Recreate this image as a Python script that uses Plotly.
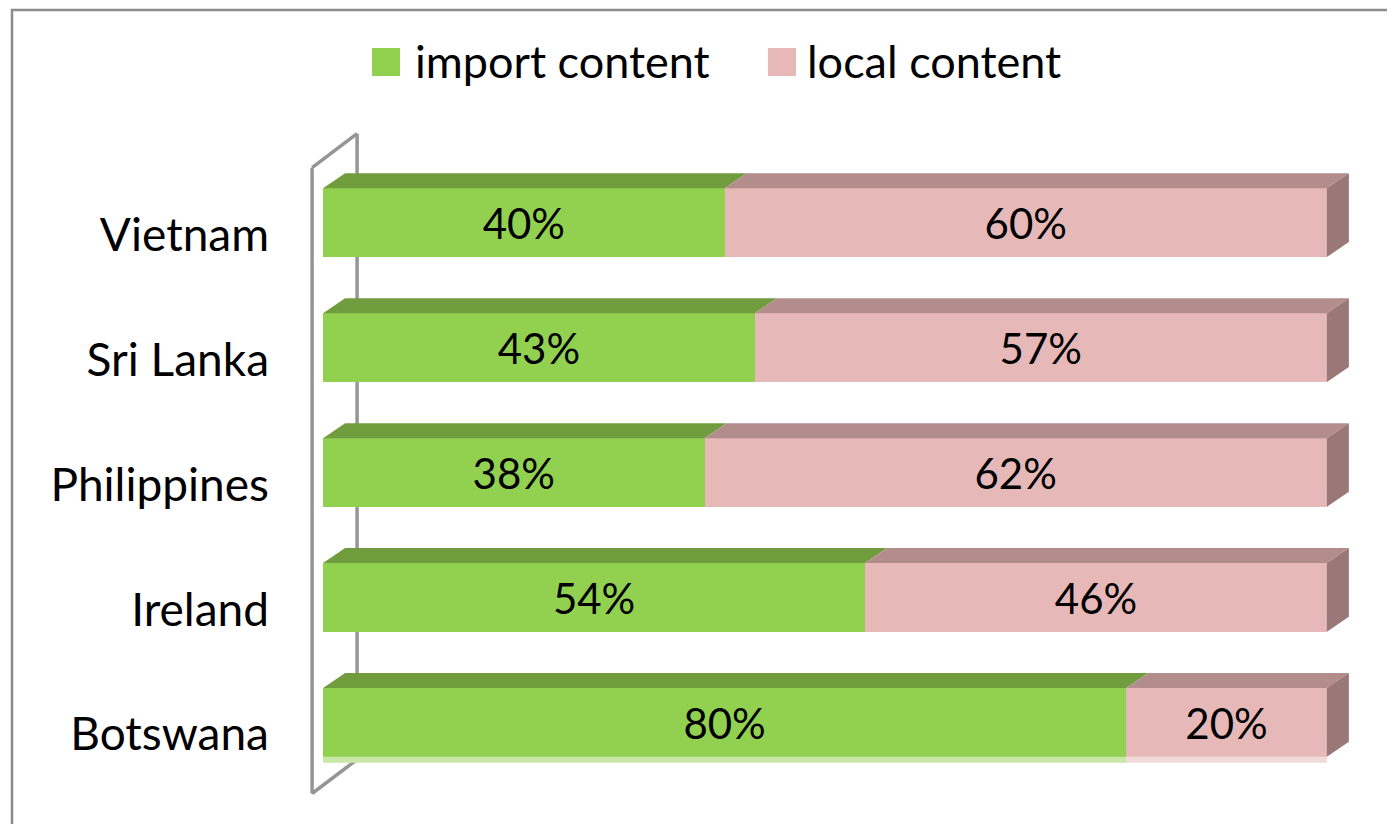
import plotly.graph_objects as go

# ---------------- data ----------------
categories = ["Botswana", "Ireland", "Philippines", "Sri Lanka", "Vietnam"]
import_content = [80, 54, 38, 43, 40]
local_content = [20, 46, 62, 57, 60]
series_names = ["import content", "local content"]

# ---------------- style ----------------
W, H = 1395, 824
OFF = 8  # page body margin
L, R, T, B = 303 - OFF, 46, 129 - OFF, 16
x_range = [-2, 103]
y_range = [-0.75, 4.75]
bar_width = 0.55
FONT = "Lato"
TXT = 42
CAT_TXT = 46
LEG_TXT = 45

front_cols = ["#92D050", "#E6B9B8"]
top_cols = ["#719C3E", "#B38D8C"]
floor_cols = ["#C9E8A8", "#F1DADA"]
side_col = "#9A7877"
wall_col = "#959595"

plot_w = W - L - R
plot_h = H - T - B
ppx = plot_w / (x_range[1] - x_range[0])
ppy = plot_h / (y_range[1] - y_range[0])
dx = 22 / ppx          # depth offset in x data units
dy = 15 / ppy          # depth offset in y data units
cat_shift = 12 / ppy   # category labels sit a bit below bar centre
lab_shift = 6 / ppy    # value labels sit a bit below bar centre

ypos = list(range(len(categories)))

fig = go.Figure()
for name, vals, col in zip(series_names, [import_content, local_content], front_cols):
    fig.add_trace(go.Bar(
        y=ypos, x=vals, orientation="h", name=name, width=bar_width,
        marker=dict(color=col, line=dict(width=0)),
        showlegend=False, hoverinfo="skip",
    ))

# value labels, centred on each segment
for k, vals in enumerate([import_content, local_content]):
    base = [0] * len(vals) if k == 0 else import_content
    fig.add_trace(go.Scatter(
        x=[b0 + v / 2 for b0, v in zip(base, vals)],
        y=[i - lab_shift for i in ypos],
        mode="text", text=[f"{v}%" for v in vals],
        textposition="middle center",
        textfont=dict(family=FONT, size=TXT, color="black"),
        showlegend=False, hoverinfo="skip", cliponaxis=False,
    ))

shapes = []
# 3D top faces and right side face, derived from data
for i, (a, b) in enumerate(zip(import_content, local_content)):
    ytop = i + bar_width / 2
    ybot = i - bar_width / 2
    segs = [(0, a, 0), (a, a + b, 1)]
    for x0, x1, k in segs:
        shapes.append(dict(
            type="path", xref="x", yref="y", layer="above",
            path=f"M {x0},{ytop} L {x0+dx},{ytop+dy} L {x1+dx},{ytop+dy} L {x1},{ytop} Z",
            fillcolor=top_cols[k], line=dict(width=0)))
        if i == 0:
            fs = 6 / ppy
            shapes.append(dict(
                type="rect", xref="x", yref="y", layer="above",
                x0=x0, x1=x1, y0=ybot - fs, y1=ybot,
                fillcolor=floor_cols[k], line=dict(width=0)))
    xe = a + b
    shapes.append(dict(
        type="path", xref="x", yref="y", layer="above",
        path=f"M {xe},{ytop} L {xe+dx},{ytop+dy} L {xe+dx},{ybot+dy} L {xe},{ybot} Z",
        fillcolor=side_col, line=dict(width=0)))

# left wall (axis plane)
wx_front = -11 / ppx
wx_back = wx_front + 45 / ppx
w_dy = 34 / ppy
w_bot = ypos[0] - 0.57
w_top = ypos[-1] + 0.44
for xa, ya, xb, yb in [
    (wx_front, w_bot, wx_front, w_top),
    (wx_back, w_bot + w_dy, wx_back, w_top + w_dy),
    (wx_front, w_top, wx_back, w_top + w_dy),
    (wx_front, w_bot, wx_back, w_bot + w_dy),
]:
    shapes.append(dict(type="line", xref="x", yref="y", layer="below",
                       x0=xa, y0=ya, x1=xb, y1=yb,
                       line=dict(color=wall_col, width=3.5)))


def px2paper(px, py):
    return (px - OFF - L) / plot_w, 1 - (py - OFF - T) / plot_h


# outer border
bx0, by0 = px2paper(12, 10)
bx1, by1 = px2paper(W + 20, H + 20)
shapes.append(dict(type="rect", xref="paper", yref="paper",
                   x0=bx0, y0=by1, x1=bx1, y1=by0,
                   line=dict(color="#8C8C8C", width=2.5)))

# custom legend
annotations = []
legend_items = [(372, 400, 413), (768, 796, 805)]
for (sx0, sx1, tx), name, col in zip(legend_items, series_names, front_cols):
    a0, b0 = px2paper(sx0, 48)
    a1, b1 = px2paper(sx1, 76)
    shapes.append(dict(type="rect", xref="paper", yref="paper",
                       x0=a0, x1=a1, y0=b1, y1=b0,
                       fillcolor=col, line=dict(width=0)))
    tx_p, ty_p = px2paper(tx, 61)
    annotations.append(dict(xref="paper", yref="paper", x=tx_p, y=ty_p,
                            xanchor="left", yanchor="middle", showarrow=False,
                            text=name, font=dict(family=FONT, size=LEG_TXT, color="black")))

fig.update_layout(
    barmode="stack",
    width=W, height=H,
    margin=dict(l=L, r=R, t=T, b=B),
    paper_bgcolor="white", plot_bgcolor="white",
    shapes=shapes, annotations=annotations,
    showlegend=False,
    xaxis=dict(range=x_range, visible=False, fixedrange=True),
    yaxis=dict(range=y_range, tickvals=[i - cat_shift for i in ypos], ticktext=categories,
               showgrid=False, zeroline=False, showline=False,
               ticks="", ticklabelstandoff=33,
               tickfont=dict(family=FONT, size=CAT_TXT, color="black")),
)

fig.write_html("out.html")
